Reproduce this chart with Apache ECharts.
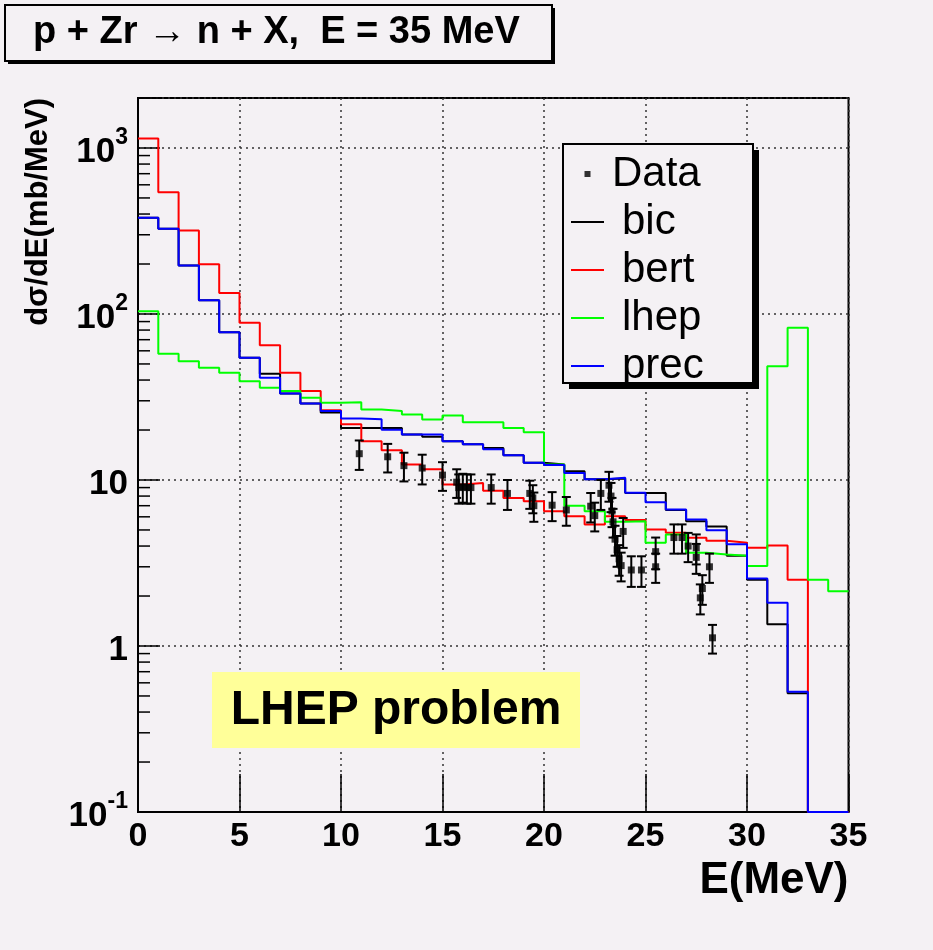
<!DOCTYPE html>
<html><head><meta charset="utf-8">
<script src="https://cdn.jsdelivr.net/npm/echarts@6/dist/echarts.min.js"></script>
<style>html,body{margin:0;padding:0;background:#f4f1f4}#c{width:933px;height:950px}</style>
</head><body><div id="c"></div>
<script>
// ---------- data ----------
const binEdges = [0,1,2,3,4,5,6,7,8,9,10,11,12,13,14,15,16,17,18,19,20,21,22,23,24,25,26,27,28,29,30,31,32,33,34,35];
const bic  = [380,326,196,121,77.7,54.5,43.6,33.2,28.9,25.5,20.6,20.6,20.6,18.8,18.2,17.1,16.4,15.6,14.1,12.7,12.4,11.3,10.1,10.2,8.35,8.35,6.6,5.65,5.25,3.5,2.51,1.35,0.52,0,0];
const bert = [1140,542,318,199,134,88.5,64.9,44.2,34.3,26.3,21.7,17.1,15.1,12.4,11.6,9.4,9.6,8.6,7.8,7.45,6.49,6.05,5.39,6.05,5.75,5.03,4.81,4.49,4.3,4.19,3.9,4.03,2.51,0,0];
const lhep = [104,57.6,52,47.4,44.3,39.4,35.9,34.3,31.3,29.2,29.4,26.6,26.0,24.8,23.1,24.5,22.3,22.3,20.6,19.4,12.4,7.0,6.49,5.6,5.65,4.19,4.69,3.65,3.56,3.5,3.03,48.5,82.6,2.51,2.14];
const prec = [380,326,196,121,77.7,54.5,41.3,33.2,28.9,26,23.5,23.2,20.1,18.8,18.8,17.1,16.4,15.3,14.1,12.7,12.3,11.0,10.1,10.3,8.37,7.35,6.64,5.78,4.98,4.1,2.55,1.82,0.53,0,0];

const dataE   = [10.9,12.3,13.1,14.0,15.0,15.7,15.8,16.0,16.2,16.4,17.4,18.2,19.3,19.45,19.5,20.4,21.1,22.3,22.5,22.8,23.2,23.3,23.35,23.4,23.5,23.6,23.7,23.8,23.9,24.3,24.8,25.5,25.5,26.4,26.8,27.1,27.5,27.5,27.7,27.8,28.15,28.3];
const dataY   = [14.4,13.8,12.2,11.8,10.7,9.7,9.0,9.1,9.0,9.0,9.0,8.3,8.3,7.8,7.0,7.05,6.6,6.95,6.1,8.3,9.3,8.0,6.5,5.6,4.4,3.8,3.35,3.05,4.9,2.87,2.87,3.7,3.0,4.5,4.5,4.0,3.9,3.42,1.95,2.22,3.0,1.12];
const dataErr = [2.9,2.7,2.4,2.4,2.1,1.9,1.8,1.8,1.8,1.8,1.8,1.7,1.6,1.5,1.4,1.4,1.3,1.4,1.2,1.7,1.9,1.6,1.3,1.1,0.9,0.8,0.7,0.6,1.0,0.6,0.6,0.8,0.6,0.9,0.9,0.8,0.8,0.7,0.4,0.45,0.6,0.22];

const yMinorTicks = [0.2,0.3,0.4,0.5,0.6,0.7,0.8,0.9,2,3,4,5,6,7,8,9,20,30,40,50,60,70,80,90,200,300,400,500,600,700,800,900,2000];

const seriesNames = ['bic','bert','lhep','prec'];
const seriesColors = ['#000000','#ff0000','#00ff00','#0000ff'];
const titleText = 'p + Zr \u2192 n + X,  E = 35 MeV';

// ---------- helpers ----------
const Y_MIN = 0.1, Y_MAX = 2000;
const BG = '#f4f1f4';
const FONT = 'Liberation Sans, Arial, Helvetica, sans-serif';
function hist(vals){
  const out = [];
  for (let i = 0; i < vals.length; i++) out.push([binEdges[i], vals[i] > 0 ? vals[i] : Y_MIN]);
  const last = vals[vals.length-1];
  out.push([binEdges[vals.length], last > 0 ? last : Y_MIN]);
  return out;
}
const LINE_ICON = 'path://M0,0L0,0M0,2L33,2L33,4L0,4ZM33,6L33,6';
const DATA_ICON = 'path://M0,0L0,0M13.5,0L19.5,0L19.5,6L13.5,6ZM33,6L33,6';

const chart = echarts.init(document.getElementById('c'), null, {renderer:'canvas'});
const histSeries = [bic, bert, lhep, prec].map((vals, k) => ({
  name: seriesNames[k], type:'line', step:'end', data: hist(vals),
  showSymbol:false, symbol:'none', z: 2,
  lineStyle:{color: seriesColors[k], width: 2}, itemStyle:{color: seriesColors[k]},
  animation:false
}));

// box geometry of title and legend frames (decoration)
const TB = {x:5, y:5, w:547, h:56, sh:3};
const LB = {x:563, y:144, w:190, h:239, sh:6};

const option = {
  backgroundColor: BG,
  animation: false,
  textStyle: {fontFamily: FONT},
  title: {
    text: titleText, left: TB.x, top: TB.y, z: 12,
    padding: [9, 32, 9, 28],
    textStyle: {fontSize: 38, fontWeight:'bold', color:'#000', fontFamily: FONT, lineHeight: 38}
  },
  legend: {
    orient:'vertical', left: LB.x, top: LB.y, z: 12,
    padding: [9, 10, 6, 8],
    itemWidth: 33, itemHeight: 6, itemGap: 6,
    itemStyle: {borderWidth: 0},
    textStyle: {fontSize: 42, color:'#000', lineHeight: 40, fontFamily: FONT, padding: [0, 0, 0, 13]},
    selectedMode: false,
    data: [{name:'Data', icon: DATA_ICON, textStyle: {padding: [0, 0, 0, 3]}}].concat(seriesNames.map(n => ({name: n, icon: LINE_ICON})))
  },
  grid: {left: 138, top: 98, right: 84.5, bottom: 138, show: true, borderColor:'#000', borderWidth: 2, backgroundColor: BG},
  xAxis: {
    type:'value', min: 0, max: 35, interval: 5,
    name: 'E(MeV)', nameLocation:'end', nameGap: 0, nameMoveOverlap: false,
    nameTextStyle: {fontSize: 44, fontWeight:'bold', color:'#000', align:'right', verticalAlign:'top', padding:[47,0,0,0]},
    axisLine: {show:true, lineStyle:{color:'#000', width:2}},
    axisTick: {show:true, inside:true, length: 38, lineStyle:{color:'#000', width:1.5}},
    axisLabel: {fontSize: 34, fontWeight:'bold', color:'#000', margin: 8, showMinLabel:true, showMaxLabel:true},
    splitLine: {show:true, lineStyle:{color:'#333', width:1.5, type:[2,4]}}
  },
  yAxis: {
    type:'log', logBase: 10, min: Y_MIN, max: Y_MAX,
    name: 'd\u03c3/dE(mb/MeV)', nameLocation:'end', nameGap: 0, nameRotate: 90, nameMoveOverlap: false,
    nameTextStyle: {fontSize: 31, fontWeight:'bold', color:'#000', align:'right', verticalAlign:'bottom', padding:[0,0,84,0]},
    axisLine: {show:true, lineStyle:{color:'#000', width:2}},
    axisTick: {show:true, inside:true, length: 22, lineStyle:{color:'#000', width:1.5}},
    axisLabel: {
      margin: 10, color:'#000',
      formatter: v => {
        const l = Math.log10(v), p = Math.round(l);
        if (Math.abs(l - p) > 1e-6) return '';
        if (p === 0) return '{b|1}';
        if (p === 1) return '{b|10}';
        return '{b|10}{s|' + p + '}';
      },
      rich: {
        b: {fontSize: 35, fontWeight:'bold', color:'#000', fontFamily: FONT, lineHeight: 44, verticalAlign:'bottom'},
        s: {fontSize: 23, fontWeight:'bold', color:'#000', fontFamily: FONT, lineHeight: 44, verticalAlign:'top'}
      }
    },
    splitLine: {show:true, lineStyle:{color:'#333', width:1.5, type:[2,4]}}
  },
  graphic: [
    {type:'rect', x: TB.x + TB.sh, y: TB.y + TB.sh, shape:{width: TB.w, height: TB.h}, style:{fill:'#000'}, z: 10},
    {type:'rect', x: TB.x, y: TB.y, shape:{width: TB.w, height: TB.h}, style:{fill: BG, stroke:'#000', lineWidth: 2}, z: 11},
    {type:'rect', x: LB.x + LB.sh, y: LB.y + LB.sh, shape:{width: LB.w, height: LB.h}, style:{fill:'#000'}, z: 10},
    {type:'rect', x: LB.x, y: LB.y, shape:{width: LB.w, height: LB.h}, style:{fill: BG, stroke:'#000', lineWidth: 2}, z: 11},
    {type:'rect', x: 212, y: 672, shape:{width: 368, height: 76}, style:{fill:'#ffff99'}, z: 10},
    {type:'text', x: 396, y: 711, style:{text:'LHEP problem', fill:'#000', font:'bold 48px ' + FONT, textAlign:'center', textVerticalAlign:'middle'}, z: 11}
  ],
  series: [
    {
      name:'yMinorTicks', type:'custom', coordinateSystem:'cartesian2d', silent:true, z: 2,
      data: yMinorTicks.map(v => [0, v]), encode:{x:0, y:1},
      renderItem: (params, api) => {
        const p = api.coord([api.value(0), api.value(1)]);
        return {type:'line', shape:{x1:p[0], y1:p[1], x2:p[0]+12, y2:p[1]}, style:{stroke:'#000', lineWidth:1.5}};
      }
    },
    ...histSeries,
    {
      name:'DataErr', type:'custom', coordinateSystem:'cartesian2d', silent:true, z: 3,
      data: dataE.map((e,i) => [e, dataY[i]-dataErr[i], dataY[i]+dataErr[i]]), encode:{x:0, y:[1,2]},
      renderItem: (params, api) => {
        const lo = api.coord([api.value(0), api.value(1)]);
        const hi = api.coord([api.value(0), api.value(2)]);
        const s = {stroke:'#000', lineWidth:2};
        return {type:'group', children:[
          {type:'line', shape:{x1:lo[0], y1:lo[1], x2:hi[0], y2:hi[1]}, style:s},
          {type:'line', shape:{x1:lo[0]-4.5, y1:lo[1], x2:lo[0]+4.5, y2:lo[1]}, style:s},
          {type:'line', shape:{x1:hi[0]-4.5, y1:hi[1], x2:hi[0]+4.5, y2:hi[1]}, style:s}
        ]};
      }
    },
    {
      name:'Data', type:'scatter', symbol:'rect', symbolSize: 7, z: 4,
      itemStyle:{color:'#000'},
      data: dataE.map((e,i) => [e, dataY[i]])
    }
  ]
};
chart.setOption(option);
</script></body></html>
